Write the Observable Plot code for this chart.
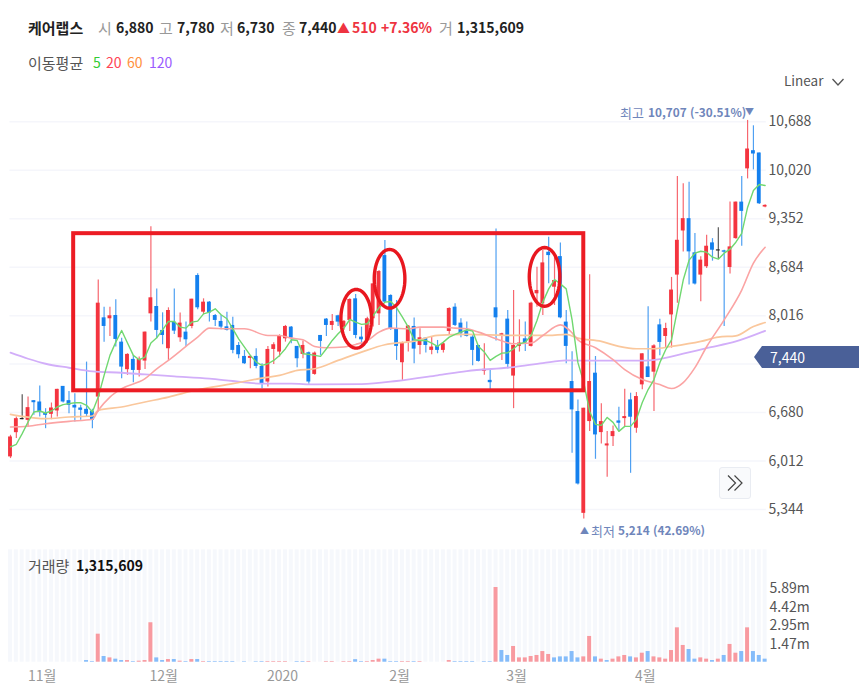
<!DOCTYPE html>
<html lang="ko">
<head>
<meta charset="utf-8">
<script src="https://cdn.jsdelivr.net/npm/d3@7"></script>
<script src="https://cdn.jsdelivr.net/npm/@observablehq/plot@0.6"></script>
<style>
  html,body{margin:0;padding:0;background:#fff;width:867px;height:698px;overflow:hidden;font-family:"Noto Sans CJK KR","Noto Sans",sans-serif;}
  #page{position:relative;width:867px;height:698px;}
  .t{position:absolute;white-space:nowrap;transform:translateY(-50%);line-height:1;}
  svg{display:block;}
  .plot{position:absolute;left:0;}
  #badge{position:absolute;left:754px;top:346px;width:105px;height:22px;background:#4a6098;color:#fff;font-size:14px;line-height:22px;clip-path:polygon(0 50%,8px 0,100% 0,100% 100%,8px 100%);}
  #badge span{position:absolute;left:16px;}
  #more{position:absolute;left:719px;top:467px;width:32px;height:32px;box-sizing:border-box;border:1px solid #e9ecf2;border-radius:3px;background:#f9fafc;}
</style>
</head>
<body>
<div id="page"></div>
<script>
const opens = [
6069,6403,6590,6573,6844,6826,6674,6656,6702,7041,
6844,6780,6743,6725,6697,6894,7986,7973,8018,7651,
7271,7413,7261,7390,8041,8142,7812,7560,7927,7711,
7789,7867,8569,8064,8202,8018,7936,7862,7881,7605,
7454,7427,7454,7316,7101,7550,7514,7697,7858,7592,
7482,7505,7206,7743,7968,7881,8014,7858,7950,8248,
7720,7674,7973,8041,8844,8294,7835,7367,7651,7867,
7605,7706,7537,7592,7537,7798,8133,7913,7798,7720,
7605,7248,7124,8124,7729,7968,7183,7592,7697,7592,
8317,8179,8890,8408,8830,7927,7108,6694,5291,6556,
7223,6404,6220,6349,6565,6597,6855,6464,7062,7310,
7237,7889,7729,8026,8575,9183,9353,8882,8575,8690,
9019,8915,8909,8680,9078,9581,10039,10290,10258,9513];
const closes = [
6344,6596,6590,6748,6816,6679,6642,6743,7000,6826,
6780,6743,6711,6656,6573,8188,7867,8014,7688,7307,
7482,7261,7413,7789,8262,7812,7743,8087,7803,7913,
7683,8243,8124,8202,8051,7950,7858,7812,7537,7477,
7353,7454,7316,7078,7550,7615,7729,7867,7706,7422,
7605,7101,7500,7661,7881,7936,7927,7936,8239,7743,
7683,7973,8454,8624,8202,7835,7592,7642,7872,7555,
7711,7605,7583,7537,7628,8115,7881,7766,7729,7537,
7385,7275,7092,7986,7766,7344,7605,7638,7638,8188,
8363,8743,8844,8500,7986,7592,6717,5696,6740,7108,
6372,6556,6248,6418,6533,6625,6616,6901,7490,7163,
7600,7647,7839,8369,9055,9353,8895,8452,8781,8973,
8918,8915,8891,8964,9581,9453,10313,10244,9558,9536];
const highs = [
6367,6619,6926,6894,6848,7046,6734,6812,7000,7041,
6972,6940,6780,7376,6725,8509,8133,8133,8234,7706,
7491,7468,7445,7789,9243,8385,8055,8124,8385,8051,
7927,8243,8592,8248,8211,8032,8018,8064,7995,7647,
7537,7468,7560,7353,7592,7642,7752,7881,7867,7592,
7665,7514,7514,7743,7977,8032,8023,7950,8248,8307,
7858,7995,8454,8638,9051,8303,8225,7651,7881,7982,
7835,7711,7720,7674,7642,8124,8179,7973,7927,7743,
7605,7628,7271,9211,7775,8087,8363,7959,7927,8202,
8684,8913,9097,8867,9019,8087,7517,6855,6740,8580,
7453,6800,6418,6496,6754,7002,6947,6956,7490,8138,
7614,7967,7912,8543,9933,9833,9856,9147,8827,9124,
9078,9229,8918,9581,9581,9933,10707,10633,10258,9545];
const lows = [
6046,6321,6582,6481,6642,6619,6458,6582,6619,6812,
6665,6550,6573,6619,6458,6688,7651,7729,7583,7147,
7193,7092,7170,7275,7927,7697,7615,7399,7757,7651,
7592,7835,8096,8032,7927,7867,7821,7803,7491,7422,
7344,7284,7284,7009,7032,7344,7445,7651,7628,7298,
7422,7069,7193,7468,7729,7812,7867,7812,7798,7697,
7583,7638,7858,7881,8202,7812,7399,7124,7514,7353,
7477,7500,7477,7491,7500,7757,7867,7711,7720,7326,
7376,7193,6986,7665,7399,7284,6734,7514,7523,7583,
8133,8018,8454,8156,7973,7353,6119,5682,5214,6418,
6036,6248,5788,6211,6418,6478,5843,6395,6993,7163,
6694,7464,7569,7569,8186,8895,8438,8438,8209,8667,
8767,8790,7866,8589,9069,8973,9901,10025,9549,9503];

const ma5 = [
6206,6243,6390,6550,6688,6702,6674,6702,6757,6789,
6803,6816,6816,6780,6688,6894,7193,7468,7651,7812,
7638,7468,7408,7445,7638,7711,7821,7936,7936,7858,
7844,7927,7940,8041,8064,8110,8028,7973,7835,7697,
7583,7468,7376,7330,7353,7399,7468,7560,7683,7674,
7491,7482,7468,7454,7560,7674,7766,7844,7963,7927,
7895,7904,8018,8124,8202,8211,8124,7995,7858,7683,
7674,7674,7638,7592,7651,7720,7757,7789,7821,7803,
7592,7514,7399,7454,7500,7505,7560,7628,7651,7743,
7950,8202,8385,8514,8454,8385,7958,7368,7093,6696,
6517,6503,6613,6545,6421,6490,6490,6586,6819,6997,
7135,7368,7546,7683,8095,8507,8781,8877,8904,8891,
8822,8795,8877,8932,9028,9151,9508,9741,9824,9810];

const ma20Days = [0,3,6,10,14,15,17,19,23,25,27,30,32,34,37,40,44,46,48,50,52,54,57,59,61,63,65,68,70,74,76,78,80,83,86,89,91,94,96,97,100,103,105,108,111,113,115,117,119,122,125,127,129];
const ma20 = [6481,6491,6527,6559,6587,6711,6894,7009,7147,7284,7399,7592,7720,7844,7835,7835,7743,7743,7706,7683,7592,7573,7583,7619,7674,7789,7844,7835,7858,7858,7844,7835,7789,7697,7628,7638,7743,7889,7779,7683,7574,7409,7272,7135,7066,7011,7093,7299,7587,7958,8369,8740,8959];
const ma60Days = [0,2,6,10,14,15,19,23,27,32,38,43,46,49,52,56,60,64,69,73,78,86,92,95,97,101,104,107,110,113,118,121,124,127,129];
const ma60 = [6656,6628,6596,6619,6633,6711,6757,6826,6894,6995,7078,7156,7193,7261,7284,7399,7514,7615,7665,7743,7757,7743,7743,7757,7706,7661,7592,7560,7560,7592,7661,7720,7738,7866,7921];
const ma120Days = [0,3,6,10,14,19,23,28,34,38,43,48,52,60,66,73,78,86,91,95,100,108,111,115,119,124,129];
const ma120 = [7505,7422,7353,7298,7248,7229,7206,7179,7147,7115,7078,7078,7069,7073,7115,7193,7252,7307,7362,7399,7395,7395,7418,7491,7569,7661,7807];

const volumes = [
0,0,0,0,0,0,0,0,0,0,
0,0,0,.13,.05,2.21,.45,.34,.24,.13,
.13,.05,.08,.13,3.11,.34,.13,.21,.21,.08,
.05,.21,.21,.05,.05,.05,.05,.05,.05,0,
.04,0,.04,.05,.05,.05,.05,.05,0,.05,
.05,.05,0,0,.05,.05,0,.05,.05,.2,
.05,.05,.13,.24,.24,.05,.05,.05,.05,.05,
.05,0,0,0,0,.13,.05,.05,.05,.05,
0,.05,.05,5.89,.92,.53,1.24,.34,.34,.45,
.53,.84,.61,.34,.42,.42,.84,.34,.42,2.03,
.42,.24,.13,.24,.42,.53,.42,.34,.71,.84,
.42,.34,.24,.92,2.71,1.32,1.0,.24,.34,.24,
.13,.24,.53,1.4,.71,.84,2.71,.84,.53,.24];
const volDir = ("bbbbbbbbbbbbb"+"bbrbrbbrbrrrbbrbrbrbr"+"bbbbbb"+"brbbrr"+"rrb"+"bbrbb"+"rrbrr"+"bbrrrb"+"bbrrbr"+"brbrr"+"bbbbbbb"+
  "rbbrrrrrrrbbbbbrrbrbrrrbrrbrrrrrrbbrrbrbrrbrbbb").split("");

const priceTicks = [10688,10020,9352,8684,8016,6680,6012,5344];
const volTicks = [5.89,4.42,2.95,1.47];
const timePos = [5.4,26.2,46.5,66.5,86.5,108.5];
const timeLabels = ["11월","12월","2020","2월","3월","4월"];

const boxNote = [{x1:10.8,x2:98,y1:9146,y2:6980}];
const ringCenters = [59.1,64.8,91.3];
const ringPrices = [7973,8524,8550];

const RED="#f4343f", BLUE="#1480ee", FONT='"Noto Sans CJK KR","Noto Sans",sans-serif';
const days = opens.map((_,i)=>i);
const candle = days.map(i=>({i,o:opens[i],c:closes[i],h:highs[i],l:lows[i],col:closes[i]>opens[i]?RED:closes[i]<opens[i]?BLUE:"#222"}));
const xScale = {domain:[-1.709,146.5],range:[0,867],axis:null};

const ringPts = ringCenters.flatMap((cx,k)=>d3.range(0,61).map(s=>{
  const a=s/60*2*Math.PI; return {k,x:cx+2.62*Math.cos(a),y:ringPrices[k]+405*Math.sin(a)};
}));
const curve = "monotone-x";

const main = Plot.plot({
  width:867,height:440,marginLeft:0,marginRight:97,marginTop:0,marginBottom:0,
  style:{background:"transparent",fontFamily:FONT,fontSize:"14px",color:"#555"},
  x:xScale,
  y:{domain:[5344,10688],range:[409,21.3]},
  marks:[
    Plot.ruleY(priceTicks.concat([7348]),{x1:-0.1,x2:129.2,stroke:"#f5f6fb",strokeWidth:1.5}),
    Plot.ruleX(candle,{x:"i",y1:"l",y2:"h",stroke:"col",strokeWidth:1.2,strokeOpacity:.75}),
    Plot.rect(candle,{x1:d=>d.i-.33,x2:d=>d.i+.33,y1:d=>d.o===d.c?d.o-8:Math.min(d.o,d.c),y2:d=>d.o===d.c?d.o+8:Math.max(d.o,d.c),fill:"col"}),
    Plot.line(ma120,{x:(d,i)=>ma120Days[i],y:d=>d,stroke:"#d2aef9",strokeWidth:1.8,curve}),
    Plot.line(ma60,{x:(d,i)=>ma60Days[i],y:d=>d,stroke:"#fac79c",strokeWidth:1.7,curve}),
    Plot.line(ma20,{x:(d,i)=>ma20Days[i],y:d=>d,stroke:"#fba4a4",strokeWidth:1.6,curve}),
    Plot.line(ma5,{x:(d,i)=>i,y:d=>d,stroke:"#70d870",strokeWidth:1.4}),
    Plot.rect(boxNote,{x1:"x1",x2:"x2",y1:"y1",y2:"y2",fill:"none",stroke:"#ec1c24",strokeWidth:4}),
    Plot.line(ringPts,{x:"x",y:"y",z:"k",stroke:"#e8171f",strokeWidth:3.4}),
    Plot.axisY(priceTicks,{anchor:"right",tickSize:0,tickPadding:-2,tickFormat:d3.format(","),label:null,fill:"#555",stroke:"none",fontSize:14})
  ]
});
main.classList.add("plot"); main.style.top="100px"; main.style.position="absolute";

const volume = Plot.plot({
  width:867,height:158,marginLeft:0,marginRight:97,marginTop:0,marginBottom:36.3,
  style:{background:"transparent",fontFamily:FONT,fontSize:"14px",color:"#555"},
  x:xScale,
  y:{domain:[0,5.89],range:[121.7,47]},
  marks:[
    Plot.rect(days,{x1:d=>d-.34,x2:d=>d+.34,y1:()=>0,y2:()=>8.86,fill:"#f6f8fc"}),
    Plot.rect(days.filter(i=>volumes[i]>0),{x1:d=>d-.34,x2:d=>d+.34,y1:()=>0,y2:d=>volumes[d],fill:d=>volDir[d]==="r"?"#f89aa0":"#85bcfa"}),
    Plot.axisY(volTicks,{anchor:"right",tickSize:0,tickPadding:-1,tickFormat:d=>d.toFixed(2)+"m",label:null,fill:"#555",stroke:"none",fontSize:14,dy:1}),
    Plot.axisX(timePos,{anchor:"bottom",tickSize:0,tickPadding:9,tickFormat:(d,i)=>timeLabels[i],label:null,fill:"#999",stroke:"none",fontSize:14})
  ]
});
volume.classList.add("plot"); volume.style.top="540px"; volume.style.position="absolute";

const page = document.getElementById("page");
page.append(main,volume);

function put(text,x,y,opt={}){
  const s=document.createElement("span");
  s.className="t"; s.textContent=text;
  s.style.left=x+"px"; s.style.top=y+"px";
  s.style.fontSize=(opt.size||14)+"px";
  s.style.color=opt.color||"#222";
  s.style.fontWeight=opt.bold?"700":"400";
  page.append(s);
}
const G="#999", K="#222", P="#6f86bb", KR=15;
put("케어랩스",28,27,{bold:1,color:K,size:KR});
put("시",98,27,{color:G,size:KR}); put("6,880",116,27,{bold:1,color:K});
put("고",159,27,{color:G,size:KR}); put("7,780",177,27,{bold:1,color:K});
put("저",220,27,{color:G,size:KR}); put("6,730",237,27,{bold:1,color:K});
put("종",282,27,{color:G,size:KR}); put("7,440",299,27,{bold:1,color:K});
put("▲",337,27,{color:"#ee3340",size:13}); put("510",352,27,{bold:1,color:"#ee3340"}); put("+7.36%",381,27,{bold:1,color:"#ee3340"});
put("거",439,27,{color:G,size:KR}); put("1,315,609",457,27,{bold:1,color:K});
put("이동평균",28,62,{color:"#555",size:KR});
put("5",93,62,{color:"#33cc33"}); put("20",106,62,{color:"#ff4455"}); put("60",127,62,{color:"#ff9040"}); put("120",149,62,{color:"#9a5cff"});
put("Linear",784,81,{color:"#555",size:13.5});
put("최고",620,112,{color:P,size:13}); put("10,707 (-30.51%)",648,112,{color:P,size:11.8,bold:1}); put("▼",745,111,{color:P,size:9});
put("▲",580,530,{color:P,size:9}); put("최저",591,530,{color:P,size:13}); put("5,214 (42.69%)",618,530,{color:P,size:11.8,bold:1});
put("거래량",28,565,{color:"#555",size:KR}); put("1,315,609",76,565,{bold:1,color:"#111"});

const badge=document.createElement("div"); badge.id="badge"; badge.innerHTML="<span>7,440</span>"; page.append(badge);
const more=document.createElement("div"); more.id="more";
more.innerHTML='<svg width="30" height="30" viewBox="0 0 30 30"><path d="M8 7.5 L15.5 15 L8 22.5 M14.5 7.5 L22 15 L14.5 22.5" fill="none" stroke="#444" stroke-width="1.2"/></svg>';
page.append(more);
const chev=document.createElementNS("http://www.w3.org/2000/svg","svg");
chev.setAttribute("width","14");chev.setAttribute("height","10");chev.style.cssText="position:absolute;left:831px;top:77px";
chev.innerHTML='<path d="M1.5 2 L7 8 L12.5 2" fill="none" stroke="#555" stroke-width="1.3"/>';
page.append(chev);
</script>
</body>
</html>
